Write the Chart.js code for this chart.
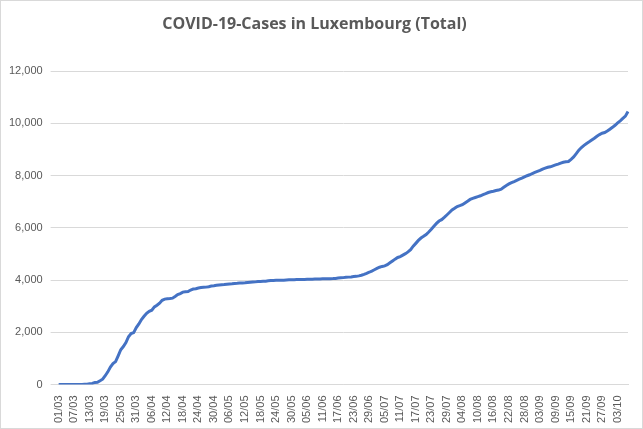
<!DOCTYPE html>
<html><head><meta charset="utf-8">
<script src="https://cdn.jsdelivr.net/npm/chart.js@4"></script>
<style>html,body{margin:0;padding:0;background:#fff}#w{width:641px;height:427px;border:1px solid #d9d9d9;position:relative}</style>
</head><body><div id="w"><canvas id="c"></canvas></div>
<script>
const startMonths = [[3,31],[4,30],[5,31],[6,30],[7,31],[8,31],[9,30],[10,7]];
const mar = [0,0,0,0,0,0,0,1,2,3,5,7,26,38,77,81,140,203,335,484,670,798,875,1099,1333,1453,1605,1831,1950,1988,2178];
const apr = [2319,2487,2612,2729,2804,2843,2970,3034,3115,3223,3270,3281,3292,3307,3373,3444,3480,3537,3550,3558,3618,3654,3665,3695,3711,3723,3729,3741,3769,3784];
const may = [3802,3812,3824,3828,3840,3851,3859,3871,3877,3886,3888,3894,3904,3915,3923,3930,3945,3947,3952,3958,3971,3980,3981,3988,3990,3993,3995,4001,4008,4012,4016];
const jun = [4018,4020,4020,4022,4027,4032,4035,4039,4040,4043,4047,4049,4050,4052,4055,4061,4075,4085,4093,4104,4112,4120,4133,4141,4160,4183,4216,4256,4299,4345];
const jul = [4395,4445,4491,4522,4542,4590,4660,4732,4801,4865,4898,4956,5012,5077,5166,5296,5405,5518,5609,5675,5745,5839,5944,6063,6170,6260,6314,6398,6491,6586,6682];
const aug = [6747,6817,6849,6886,6955,7021,7088,7130,7163,7195,7228,7272,7310,7353,7381,7402,7427,7447,7484,7556,7624,7682,7730,7772,7817,7863,7901,7949,7995,8033,8081];
const sep = [8124,8162,8200,8250,8287,8320,8338,8375,8409,8441,8479,8511,8530,8542,8625,8718,8840,8975,9075,9160,9233,9294,9361,9430,9509,9573,9623,9649,9706,9778];
const oct = [9850,9930,10020,10100,10190,10280,10460];
const cases = [].concat(mar,apr,may,jun,jul,aug,sep,oct);
const categories = [];
for (const [m,n] of startMonths) for (let d=1; d<=n; d++) categories.push(String(d).padStart(2,'0')+'/'+String(m).padStart(2,'0'));
const yTicks = [0,2000,4000,6000,8000,10000,12000];

new Chart(document.getElementById('c'), {
  type:'line',
  data:{labels:categories,datasets:[{data:cases,borderColor:'#4472C4',borderWidth:3,pointRadius:0,tension:0}]},
  options:{
    responsive:true,maintainAspectRatio:false,animation:false,
    layout:{padding:{left:0,right:14,top:4,bottom:2}},
    plugins:{legend:{display:false},tooltip:{enabled:false},
      title:{display:true,text:'COVID-19-Cases in Luxembourg (Total)',color:'#595959',
        font:{family:'Open Sans',size:16,weight:'bold'},padding:{top:10,bottom:37}}},
    scales:{
      x:{grid:{display:false},border:{color:'#d9d9d9'},
        ticks:{autoSkip:false,maxRotation:90,minRotation:90,color:'#595959',font:{family:'Liberation Sans',size:11},
          callback:(v,i)=> i%6===0 ? categories[i] : null}},
      y:{min:0,max:12000,grid:{color:'#d9d9d9'},border:{display:false},
        afterBuildTicks:a=>{a.ticks=yTicks.map(v=>({value:v}));},
        ticks:{color:'#595959',padding:8,font:{family:'Liberation Sans',size:11},callback:v=>v.toLocaleString('en-US')}}
    }
  }
});
</script></body></html>
